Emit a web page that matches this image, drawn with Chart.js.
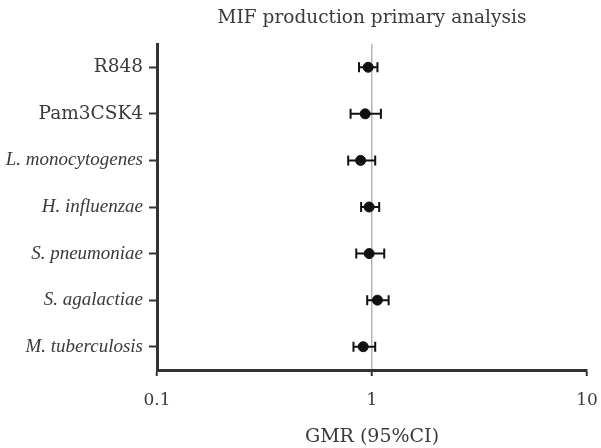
<!DOCTYPE html>
<html>
<head>
<meta charset="utf-8">
<script src="https://cdn.jsdelivr.net/npm/chart.js@4/dist/chart.umd.min.js"></script>
<style>
  html, body { margin: 0; padding: 0; background: #fff; }
  #wrap { width: 601px; height: 448px; }
</style>
</head>
<body>
<div id="wrap"><canvas id="chart" width="601" height="448"></canvas></div>
<script>
// datos
var estimulos = ["R848", "Pam3CSK4", "L. monocytogenes", "H. influenzae", "S. pneumoniae", "S. agalactiae", "M. tuberculosis"];
var gmr = [0.96, 0.93, 0.885, 0.97, 0.97, 1.06, 0.91];
var icInf = [0.87, 0.795, 0.775, 0.89, 0.845, 0.95, 0.82];
var icSup = [1.06, 1.10, 1.035, 1.08, 1.14, 1.195, 1.035];
var ticksX = [0.1, 1, 10];
var titulo = "MIF production primary analysis";
var tituloX = "GMR (95%CI)";

var fuente = "'DejaVu Serif', 'Liberation Serif', serif";
var fuenteItalica = "'Liberation Serif', serif";
var colorTexto = "#3a3a3a";

// barras de error dibujadas con las escalas del grafico
var barrasError = {
    id: "barrasError",
    afterDatasetsDraw: function(chart) {
        var ctx = chart.ctx;
        var x = chart.scales.x, y = chart.scales.y;
        ctx.save();
        ctx.strokeStyle = "#111";
        ctx.lineWidth = 2;
        for (var i = 0; i < estimulos.length; i++) {
            var yp = y.getPixelForValue(i);
            var x1 = x.getPixelForValue(icInf[i]);
            var x2 = x.getPixelForValue(icSup[i]);
            ctx.beginPath();
            ctx.moveTo(x1, yp); ctx.lineTo(x2, yp);
            ctx.moveTo(x1, yp - 5); ctx.lineTo(x1, yp + 5);
            ctx.moveTo(x2, yp - 5); ctx.lineTo(x2, yp + 5);
            ctx.stroke();
        }
        ctx.restore();
    }
};

// titulo centrado sobre el area del grafico
var tituloArea = {
    id: "tituloArea",
    afterDraw: function(chart) {
        var ctx = chart.ctx;
        var a = chart.chartArea;
        ctx.save();
        ctx.font = "18.5px " + fuente;
        ctx.fillStyle = colorTexto;
        ctx.textAlign = "center";
        ctx.textBaseline = "middle";
        ctx.fillText(titulo, (a.left + a.right) / 2, 18);
        ctx.restore();
    }
};

var puntos = gmr.map(function(v, i) { return {x: v, y: estimulos[i]}; });

var ctx = document.getElementById("chart").getContext("2d");
var chart = new Chart(ctx, {
    type: "scatter",
    data: {
        datasets: [{
            data: puntos,
            backgroundColor: "#111",
            borderColor: "#111",
            pointRadius: 5,
            pointHoverRadius: 5
        }]
    },
    options: {
        responsive: false,
        animation: false,
        layout: { padding: { top: 44, right: 0, left: 0, bottom: 0 } },
        plugins: { legend: { display: false }, tooltip: { enabled: false } },
        scales: {
            x: {
                type: "logarithmic",
                min: 0.1,
                max: 10,
                afterBuildTicks: function(scale) {
                    scale.ticks = ticksX.map(function(v) { return {value: v}; });
                },
                afterFit: function(scale) {
                    scale.height = 78;
                    scale.paddingLeft = 0;
                    scale.paddingRight = 14;
                },
                ticks: {
                    autoSkip: false,
                    maxRotation: 0,
                    padding: 14,
                    color: colorTexto,
                    font: { family: fuente, size: 17 },
                    callback: function(v) { return String(v); }
                },
                grid: {
                    drawOnChartArea: true,
                    color: function(c) { return c.tick && c.tick.value === 1 ? "#b5b5b5" : "rgba(0,0,0,0)"; },
                    lineWidth: 1.5,
                    tickColor: "#333",
                    tickWidth: 2,
                    tickLength: 6
                },
                border: { display: true, color: "#333", width: 3 },
                title: {
                    display: true,
                    text: tituloX,
                    color: colorTexto,
                    font: { family: fuente, size: 19 },
                    padding: { top: 4, bottom: 0 }
                }
            },
            y: {
                type: "category",
                labels: estimulos,
                offset: true,
                afterFit: function(scale) { scale.width = 157; },
                ticks: {
                    padding: 6,
                    color: colorTexto,
                    font: function(c) {
                        if (c.index > 1) {
                            return { family: fuenteItalica, size: 19, style: "italic" };
                        }
                        return { family: fuente, size: 18.5, style: "normal" };
                    }
                },
                grid: {
                    drawOnChartArea: false,
                    tickColor: "#333",
                    tickWidth: 2,
                    tickLength: 8
                },
                border: { display: true, color: "#333", width: 3 }
            }
        }
    },
    plugins: [barrasError, tituloArea]
});
</script>
</body>
</html>
